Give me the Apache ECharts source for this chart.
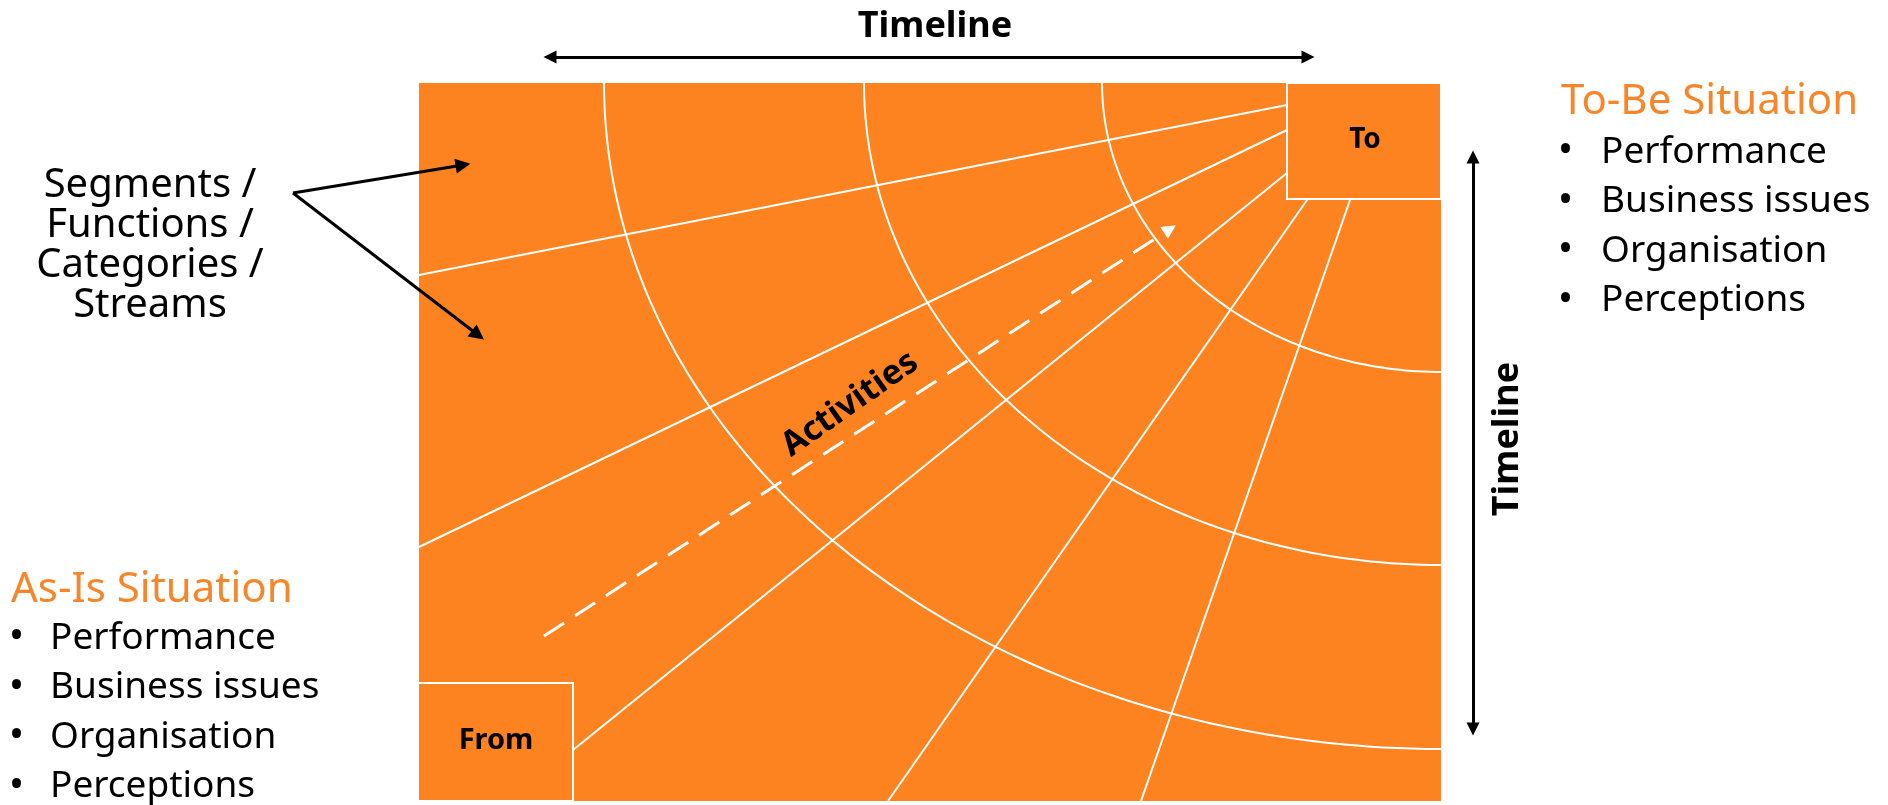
<!DOCTYPE html>
<html>
<head>
<meta charset="utf-8">
<title>From - To roadmap</title>
<script src="https://cdn.jsdelivr.net/npm/echarts@6/dist/echarts.min.js"></script>
<style>
  html, body { margin: 0; padding: 0; background: #ffffff; }
  #main { width: 1888px; height: 805px; }
</style>
</head>
<body>
<div id="main"></div>
<script>
// 图形数据（坐标单位 = 画布像素）
var panelBox = [[419, 83, 1441, 801]];
var cornerBoxes = [[1287, 83, 1441, 199], [418, 683, 573, 801]];
var boxNames = ['To', 'From'];

// 放射线：起点 -> 终点
var rayFrom = [[419, 275], [419, 547], [573, 750], [888, 801], [1141, 801]];
var rayTo = [[1287, 105], [1287, 130], [1287, 173], [1307, 200], [1350, 200]];

// 弧线（椭圆四分之一，圆心在右上角）
var arcCenter = [1441, 83];
var arcRadiusX = [339, 577, 837];
var arcRadiusY = [289, 482, 666];

// 箭头
var activityArrow = [[544, 636], [1170, 229]];
var timelineTop = [[550, 57], [1308, 57]];
var timelineRight = [[1473, 157], [1473, 729]];
var segmentArrows = [[[293, 193], [463, 165]], [[293, 193], [478, 335]]];

// 文字
var segmentLines = ['Segments /', 'Functions /', 'Categories /', 'Streams'];
var asIsTitle = 'As-Is Situation';
var toBeTitle = 'To-Be Situation';
var situationItems = ['Performance', 'Business issues', 'Organisation', 'Perceptions'];

var ORANGE = '#FC831F';
var TITLE_ORANGE = '#F7862A';
var FONT = "'Noto Sans', sans-serif";

var myChart = echarts.init(document.getElementById('main'));

var renderBox = function(withBorder) {
	return function(params, api) {
		var p0 = api.coord([api.value(0), api.value(1)]);
		var p1 = api.coord([api.value(2), api.value(3)]);
		return {
			type: 'rect',
			shape: {
				x: Math.min(p0[0], p1[0]),
				y: Math.min(p0[1], p1[1]),
				width: Math.abs(p1[0] - p0[0]),
				height: Math.abs(p1[1] - p0[1])
			},
			style: {
				fill: ORANGE,
				stroke: withBorder ? '#ffffff' : null,
				lineWidth: withBorder ? 2 : 0
			}
		};
	};
};

var renderArc = function(params, api) {
	var rx = api.value(0);
	var ry = api.value(1);
	var pts = [];
	for (var k = 0; k <= 90; k++) {
		var t = Math.PI / 2 + k / 90 * Math.PI / 2;
		pts.push(api.coord([arcCenter[0] + rx * Math.cos(t), arcCenter[1] + ry * Math.sin(t)]));
	}
	return {
		type: 'polyline',
		shape: { points: pts },
		style: { stroke: '#ffffff', lineWidth: 2, fill: null }
	};
};

var rayData = [];
for (var i = 0; i < rayFrom.length; i++) {
	rayData.push({ coords: [rayFrom[i], rayTo[i]] });
}
var arcData = [];
for (var j = 0; j < arcRadiusX.length; j++) {
	arcData.push([arcRadiusX[j], arcRadiusY[j]]);
}
var segArrowData = [];
for (var s = 0; s < segmentArrows.length; s++) {
	segArrowData.push({ coords: segmentArrows[s] });
}

// 文字元素
var texts = [];
var addText = function(x, y, str, opt) {
	opt = opt || {};
	texts.push({
		type: 'text',
		x: x,
		y: y,
		rotation: opt.rotation || 0,
		z: 100,
		style: {
			text: str,
			fill: opt.color || '#000000',
			font: (opt.weight || 'normal') + ' ' + (opt.size || 34) + 'px ' + FONT,
			align: opt.align || 'left',
			verticalAlign: 'middle'
		}
	});
};

addText(935, 27, 'Timeline', { align: 'center', size: 36, weight: 'bold' });
addText(1508, 439, 'Timeline', { align: 'center', size: 36, weight: 'bold', rotation: Math.PI / 2 });
addText(850, 404, 'Activities', { align: 'center', size: 34, weight: 'bold', rotation: 35 * Math.PI / 180 });
addText(1365, 140, boxNames[0], { align: 'center', size: 28, weight: 'bold' });
addText(496, 741, boxNames[1], { align: 'center', size: 29, weight: 'bold' });

for (var a = 0; a < segmentLines.length; a++) {
	addText(150, 186 + a * 40, segmentLines[a], { align: 'center', size: 40 });
}

addText(11, 590, asIsTitle, { size: 42, color: TITLE_ORANGE });
addText(1561, 102, toBeTitle, { size: 42, color: TITLE_ORANGE });
for (var b = 0; b < situationItems.length; b++) {
	addText(9, 638 + b * 49.5, '\u2022', { size: 40 });
	addText(50, 638 + b * 49.5, situationItems[b], { size: 37 });
	addText(1558, 152 + b * 49.5, '\u2022', { size: 40 });
	addText(1601, 152 + b * 49.5, situationItems[b], { size: 37 });
}

var option = {
	backgroundColor: '#ffffff',
	animation: false,
	grid: { left: 0, right: 0, top: 0, bottom: 0 },
	xAxis: { type: 'value', min: 0, max: 1888, show: false },
	yAxis: { type: 'value', min: 0, max: 805, inverse: true, show: false },
	graphic: texts,
	series: [
		{
			name: 'panel',
			type: 'custom',
			z: 1,
			renderItem: renderBox(false),
			encode: { x: [0, 2], y: [1, 3] },
			data: panelBox
		},
		{
			name: 'arcs',
			type: 'custom',
			z: 2,
			renderItem: renderArc,
			encode: { x: 0, y: 1 },
			data: arcData
		},
		{
			name: 'rays',
			type: 'lines',
			coordinateSystem: 'cartesian2d',
			z: 3,
			symbol: 'none',
			lineStyle: { color: '#ffffff', width: 2, opacity: 1 },
			data: rayData
		},
		{
			name: 'activities',
			type: 'lines',
			coordinateSystem: 'cartesian2d',
			z: 4,
			symbol: ['none', 'triangle'],
			symbolSize: 14,
			lineStyle: { color: '#ffffff', width: 3, opacity: 1, type: [24, 13] },
			data: [{ coords: activityArrow }]
		},
		{
			name: 'boxes',
			type: 'custom',
			z: 5,
			renderItem: renderBox(true),
			encode: { x: [0, 2], y: [1, 3] },
			data: cornerBoxes
		},
		{
			name: 'timeline',
			type: 'lines',
			coordinateSystem: 'cartesian2d',
			z: 6,
			symbol: ['triangle', 'triangle'],
			symbolSize: 13,
			lineStyle: { color: '#000000', width: 3, opacity: 1 },
			data: [{ coords: timelineTop }, { coords: timelineRight }]
		},
		{
			name: 'segments',
			type: 'lines',
			coordinateSystem: 'cartesian2d',
			z: 6,
			symbol: ['none', 'triangle'],
			symbolSize: 15,
			lineStyle: { color: '#000000', width: 3, opacity: 1 },
			data: segArrowData
		}
	]
};

myChart.setOption(option);
</script>
</body>
</html>
